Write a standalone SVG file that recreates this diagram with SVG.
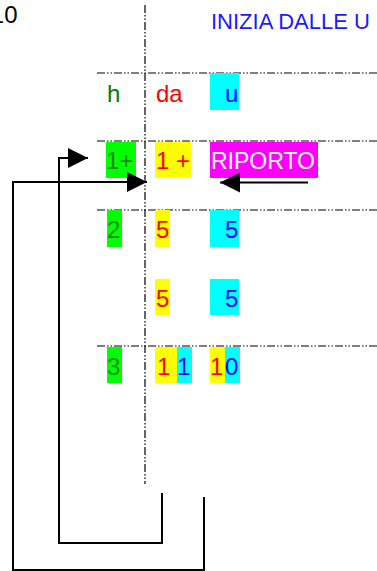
<svg xmlns="http://www.w3.org/2000/svg" width="377" height="571" viewBox="0 0 377 571">
<style>
.t{font-family:"Liberation Sans",Arial,sans-serif;font-size:24px}
.tt{font-family:"Liberation Sans",Arial,sans-serif;font-size:22px}
.dd{stroke:#000;stroke-width:1.2;fill:none;stroke-dasharray:8 2 1.5 2 1.5 2}
.cn{stroke:#000;stroke-width:2;fill:none}
.g{fill:#00ff00}.y{fill:#ffff00}.c{fill:#00ffff}.m{fill:#ff00ff}
.tg{fill:#1f8a1f}.tr{fill:#ff0000}.tb{fill:#0000ff}
</style>
<defs>
<marker id="ah" markerWidth="20" markerHeight="20" refX="20" refY="10" orient="auto" markerUnits="userSpaceOnUse">
<path d="M0,0 L20,10 L0,20 Z" fill="#000"/>
</marker>
</defs>
<g id="grid">
<line class="dd" x1="145" y1="5" x2="145" y2="484"/>
<line class="dd" x1="97" y1="73" x2="377" y2="73"/>
<line class="dd" x1="97" y1="141" x2="377" y2="141"/>
<line class="dd" x1="97" y1="210" x2="377" y2="210"/>
<line class="dd" x1="97" y1="346" x2="377" y2="346"/>
</g>
<g id="title">
<text class="t" x="17.5" y="23" text-anchor="end" fill="#000">10</text>
<text class="tt" x="211" y="29" fill="#1a1aff">INIZIA DALLE U</text>
</g>
<g id="row1">
<text class="t" x="107" y="102" fill="#008000">h</text>
<text class="t tr" x="156" y="102">da</text>
<rect class="c" x="210" y="73" width="29" height="37"/>
<text class="t tb" x="225" y="102">u</text>
</g>
<g id="row2">
<rect class="g" x="106" y="142" width="30" height="36"/>
<text class="t tg" x="106" y="169">1+</text>
<rect class="y" x="155" y="142" width="36" height="36"/>
<text class="t tr" x="156" y="169">1 +</text>
<rect class="m" x="210" y="142" width="108" height="36"/>
<text class="t" x="211" y="169" fill="#fff" textLength="104" lengthAdjust="spacingAndGlyphs">RIPORTO</text>
</g>
<g id="row3">
<rect class="g" x="107" y="210" width="15" height="37"/>
<text class="t tg" x="107" y="238">2</text>
<rect class="y" x="155" y="210" width="15" height="37"/>
<text class="t tr" x="156" y="238">5</text>
<rect class="c" x="210" y="210" width="29" height="37"/>
<text class="t tb" x="225" y="238">5</text>
</g>
<g id="row4">
<rect class="y" x="155" y="279" width="15" height="36"/>
<text class="t tr" x="156" y="307">5</text>
<rect class="c" x="210" y="279" width="29" height="36"/>
<text class="t tb" x="225" y="307">5</text>
</g>
<g id="row5">
<rect class="g" x="107" y="347" width="15" height="36"/>
<text class="t tg" x="107" y="375">3</text>
<rect class="y" x="155" y="347" width="22" height="36"/>
<rect class="c" x="177" y="347" width="15" height="36"/>
<text class="t tr" x="157" y="375">1</text>
<text class="t tb" x="177" y="375">1</text>
<rect class="y" x="210" y="347" width="15" height="36"/>
<rect class="c" x="225" y="347" width="15" height="36"/>
<text class="t tr" x="210" y="375">1</text>
<text class="t tb" x="225" y="375">0</text>
</g>
<g id="connectors">
<path class="cn" d="M162,493 V543 H59 V158 H88" marker-end="url(#ah)"/>
<path class="cn" d="M204,497 V570 H13 V182 H147" marker-end="url(#ah)"/>
<path class="cn" d="M308,182.5 H220" marker-end="url(#ah)"/>
</g>
</svg>
